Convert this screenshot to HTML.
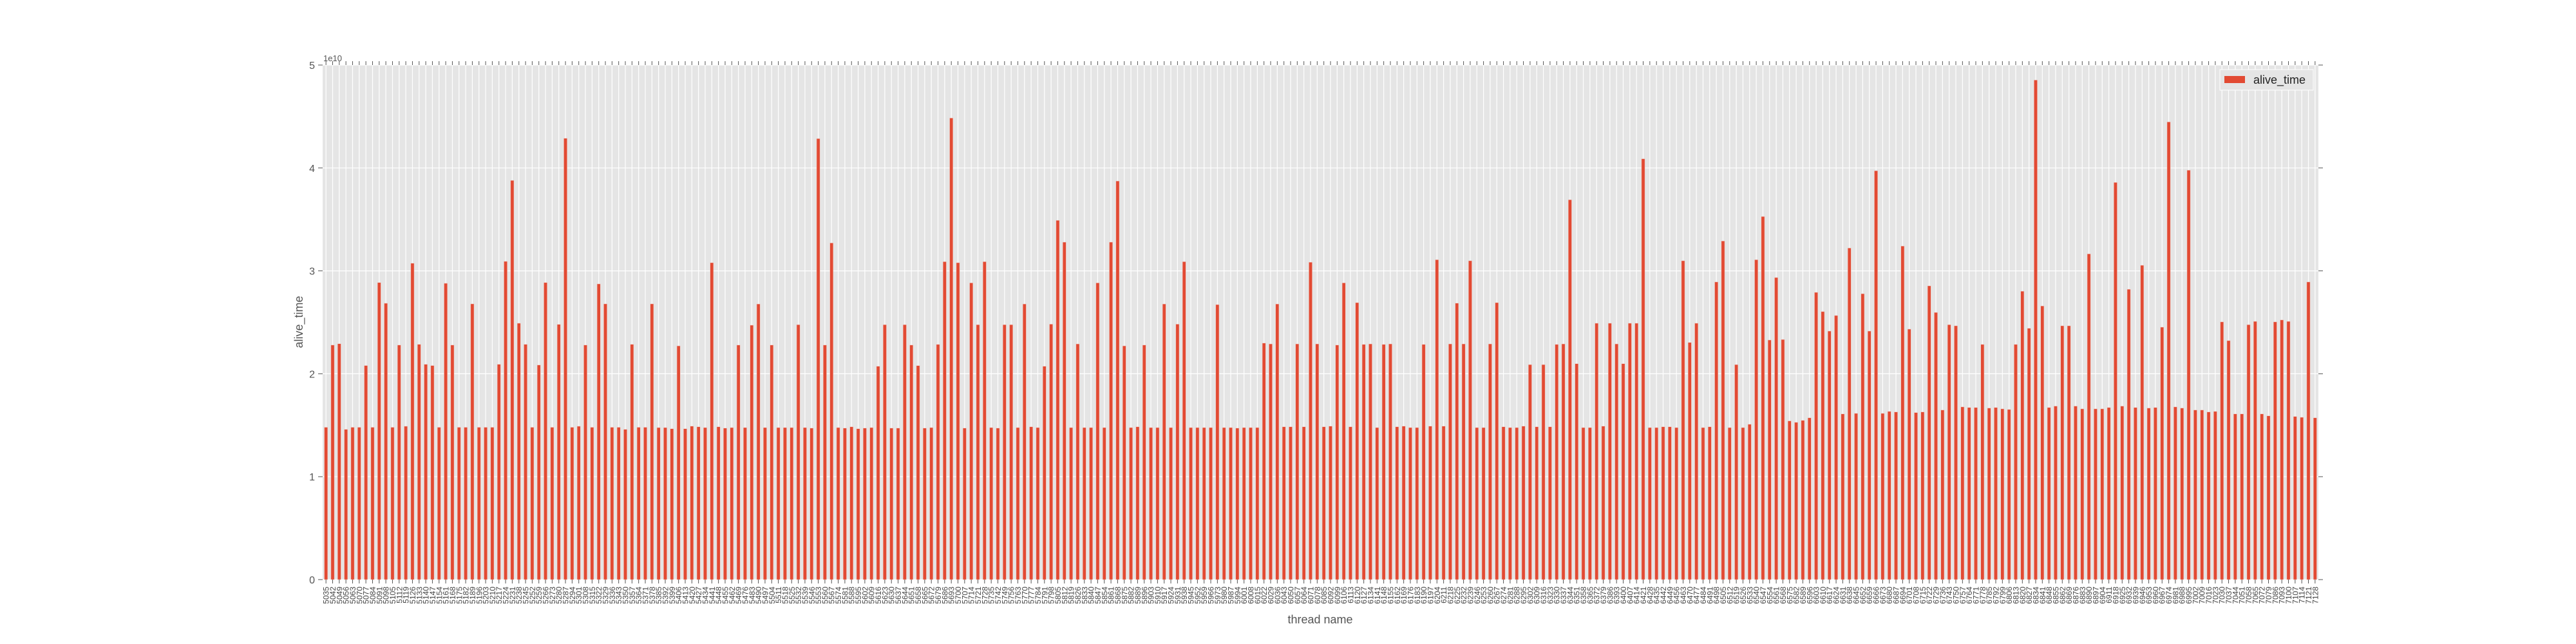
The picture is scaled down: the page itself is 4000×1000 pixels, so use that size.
<!DOCTYPE html>
<html><head><meta charset="utf-8">
<style>
html,body{margin:0;padding:0;background:#fff;}
svg{display:block;}
text{font-family:"Liberation Sans","DejaVu Sans",sans-serif;}
</style></head>
<body>
<svg id="chart" width="4000" height="1000" viewBox="0 0 4000 1000" xmlns="http://www.w3.org/2000/svg">
<rect x="501" y="101" width="3099" height="799" fill="#e5e5e5"/>
<g id="grid"></g>
<g id="bars"></g>
<g id="ticks"></g>
<g id="labels"></g>
<text x="502" y="95" font-size="13" fill="#555">1e10</text>
<text x="0" y="0" font-size="18" fill="#555" text-anchor="middle" transform="translate(470,500) rotate(-90)">alive_time</text>
<text x="2050" y="968" font-size="18" fill="#555" text-anchor="middle">thread name</text>
<g>
<rect x="3447" y="108" width="145" height="32" fill="#e5e5e5" stroke="#ffffff" stroke-width="1"/>
<rect x="3454" y="118" width="32" height="11" fill="#E24A33"/>
<text x="3499" y="130" font-size="18" fill="#222">alive_time</text>
</g>
</svg>
<script>
const values = [
1.48,2.279,2.292,1.46,1.48,1.48,2.080,1.48,2.886,2.685,
1.48,2.279,1.49,3.074,2.286,2.092,2.080,1.48,2.879,2.279,
1.48,1.48,2.679,1.48,1.48,1.48,2.092,3.092,3.879,2.491,
2.286,1.48,2.085,2.886,1.48,2.480,4.288,1.48,1.49,2.279,
1.48,2.873,2.679,1.48,1.48,1.46,2.286,1.48,1.48,2.679,
1.477,1.477,1.466,2.271,1.466,1.491,1.485,1.477,3.079,1.485,
1.472,1.477,2.279,1.477,2.472,2.678,1.477,2.279,1.477,1.477,
1.477,2.477,1.477,1.472,4.285,2.279,3.271,1.477,1.472,1.485,
1.466,1.472,1.477,2.073,2.477,1.472,1.472,2.477,2.279,2.079,
1.472,1.477,2.285,3.089,4.485,3.079,1.472,2.883,2.477,3.089,
1.477,1.472,2.477,2.477,1.477,2.678,1.485,1.477,2.073,2.482,
3.491,3.279,1.477,2.290,1.477,1.477,2.883,1.477,3.279,3.873,
2.271,1.477,1.485,2.279,1.477,1.477,2.678,1.477,2.482,3.089,
1.477,1.477,1.477,1.477,2.672,1.477,1.477,1.472,1.477,1.477,
1.477,2.298,2.290,2.678,1.485,1.485,2.290,1.485,3.084,2.290,
1.485,1.491,2.279,2.883,1.485,2.691,2.285,2.290,1.477,2.285,
2.290,1.485,1.491,1.477,1.477,2.285,1.491,3.108,1.491,2.290,
2.686,2.290,3.098,1.477,1.477,2.290,2.691,1.485,1.477,1.477,
1.491,2.089,1.485,2.089,1.485,2.285,2.290,3.691,2.098,1.477,
1.477,2.491,1.491,2.491,2.290,2.098,2.491,2.491,4.089,1.477,
1.477,1.485,1.485,1.477,3.098,2.304,2.491,1.477,1.485,2.892,
3.290,1.477,2.089,1.477,1.509,3.108,3.528,2.328,2.935,2.333,
1.542,1.528,1.547,1.572,2.791,2.604,2.415,2.566,1.610,3.222,
1.615,2.778,2.415,3.973,1.615,1.634,1.629,3.241,2.434,1.623,
1.629,2.854,2.596,1.648,2.477,2.466,1.678,1.672,1.672,2.285,
1.667,1.672,1.659,1.653,2.285,2.802,2.442,4.854,2.659,1.672,
1.686,2.466,2.466,1.686,1.659,3.165,1.659,1.659,1.672,3.859,
1.686,2.821,1.672,3.054,1.667,1.672,2.453,4.447,1.678,1.667,
3.978,1.648,1.648,1.629,1.634,2.504,2.322,1.610,1.610,2.477,
2.509,1.610,1.591,2.504,2.523,2.509,1.585,1.577,2.892,1.572
];
const categories = Array.from({length: values.length}, (_, i) => String(5035 + i * 7));
const yTicks = [0, 1, 2, 3, 4, 5];
const yTickLabels = ["0", "1", "2", "3", "4", "5"];

const NS = "http://www.w3.org/2000/svg";
const L = 501, R = 3600, T = 101, B = 900;
const yMax = 5;
const n = values.length;
const step = (R - L) / n;
function xScale(i) { return L + (i + 0.5) * step; }
function yScale(v) { return B - v / yMax * (B - T); }

const grid = document.getElementById('grid');
const bars = document.getElementById('bars');
const ticks = document.getElementById('ticks');
const labels = document.getElementById('labels');

function mk(tag, attrs, parent) {
  const e = document.createElementNS(NS, tag);
  for (const k in attrs) e.setAttribute(k, attrs[k]);
  parent.appendChild(e);
  return e;
}

yTicks.forEach((t, k) => {
  const y = yScale(t);
  const g = mk('line', {x1: L, x2: R, y1: y, y2: y, stroke: '#ffffff', 'stroke-width': 1.2}, grid);
  
  
  const tl = mk('line', {x1: L - 7, x2: L, y1: y, y2: y, stroke: '#555', 'stroke-width': 1}, ticks);
  
  
  const tr = mk('line', {x1: R, x2: R + 7, y1: y, y2: y, stroke: '#555', 'stroke-width': 1}, ticks);
  
  
  const lab = mk('text', {x: L - 12, y: y + 6, 'font-size': 16, fill: '#555', 'text-anchor': 'end'}, labels);
  lab.textContent = yTickLabels[k];
  
  
});

values.forEach((v, i) => {
  const x = xScale(i);
  const g = mk('line', {x1: x, x2: x, y1: T, y2: B, stroke: '#ffffff', 'stroke-width': 1.2}, grid);
  
  
  const w = step * 0.5;
  const y = yScale(v);
  const b = mk('rect', {x: x - w / 2, y: y, width: w, height: B - y, fill: '#E24A33', stroke: '#f0c8c0', 'stroke-width': 0.5}, bars);
  
  
  const tb = mk('line', {x1: x, x2: x, y1: B, y2: B + 6, stroke: '#555', 'stroke-width': 1}, ticks);
  
  
  const tt = mk('line', {x1: x, x2: x, y1: T - 6, y2: T, stroke: '#555', 'stroke-width': 1}, ticks);
  
  
  const lab = mk('text', {x: 0, y: 0, 'font-size': 12, fill: '#444', 'text-anchor': 'end', transform: 'translate(' + (x + 4.5) + ',' + (B + 11) + ') rotate(-90)'}, labels);
  lab.textContent = categories[i];
  
  
});
</script>
</body></html>
